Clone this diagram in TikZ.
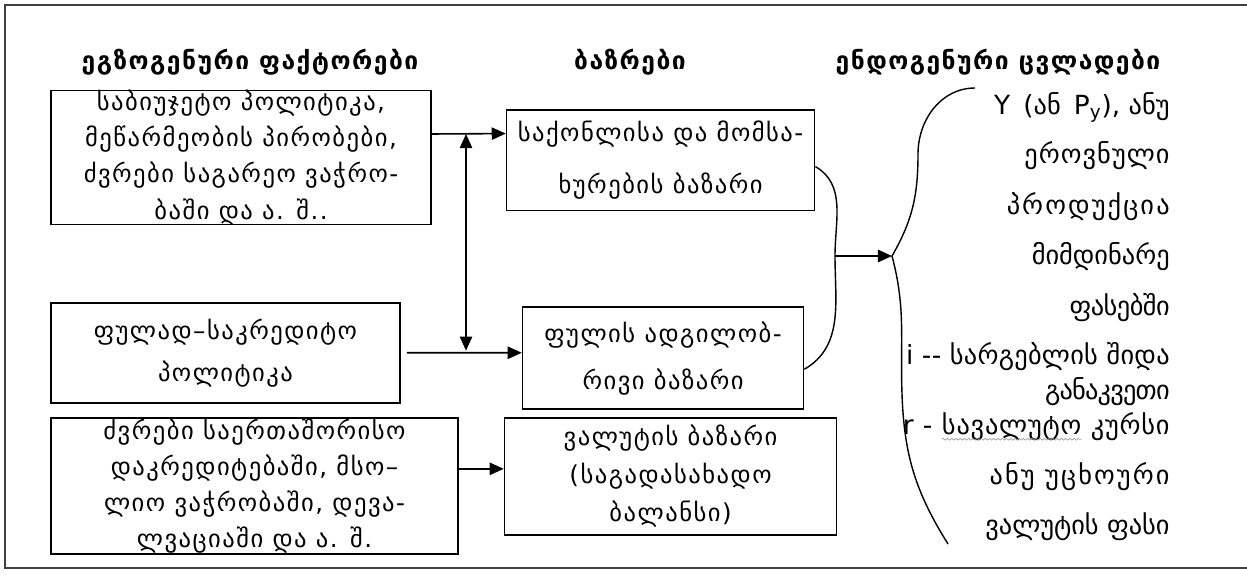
\documentclass[tikz,border=0pt]{standalone}
\usepackage{fontspec}
\setmainfont{DejaVu Sans}
\newfontfamily\geoBox[LetterSpace=6]{DejaVu Sans}
\usepackage{tikz}
\usetikzlibrary{shapes, arrows.meta, positioning, decorations.pathmorphing}
\definecolor{frameColor}{HTML}{404040}
\definecolor{squigColor}{HTML}{9A9A9A}
\tikzstyle{factor} = [rectangle, 
line width=0.9pt,
text centered, 
align=center,
inner sep=0pt,
draw=black]
\tikzstyle{market} = [rectangle, 
line width=0.9pt,
text centered, 
align=center,
inner sep=0pt,
draw=black]
\tikzstyle{heading} = [font=\geoBox\fontsize{14}{20}\selectfont\bfseries, inner sep=0pt]
\tikzstyle{endoline} = [font=\rmfamily\fontsize{15}{20}\selectfont, inner sep=0pt, anchor=base east]
\tikzstyle{arrow} = [line width=0.9pt, ->, >={Triangle[length=8pt,width=7pt]}]
\tikzstyle{curveline} = [line width=0.8pt]
\newcommand{\squig}[1]{\tikz[baseline=(sq.base)]{\node[inner sep=0pt, outer sep=0pt, anchor=base] (sq) {#1};
  \draw[squigColor, line width=0.4pt, decorate, decoration={snake, amplitude=0.5pt, segment length=2.4pt}] ([yshift=-3pt]sq.base west) -- ([yshift=-3pt]sq.base east);}}
\newcommand{\spread}[1]{\addfontfeature{LetterSpace=#1}}

\begin{document}
\begin{tikzpicture}[font=\geoBox\fontsize{14}{20.5}\selectfont]
    \useasboundingbox (0,0) rectangle (24.94,11.48);
    \draw[frameColor, line width=1.6pt] (0.1,0.12) rectangle (25.2,11.38);
    % Nodes
    \node[heading] (exoHead) at (5.0,10.24) {ეგზოგენური ფაქტორები};
    \node[heading] (mktHead) at (12.6,10.24) {ბაზრები};
    \node[heading] (endoHead) at (19.96,10.24) {ენდოგენური ცვლადები};
    \node[factor, minimum width=7.6cm, minimum height=2.67cm] (budget) at (4.82,8.33) {საბიუჯეტო პოლიტიკა,\\ მეწარმეობის პირობები,\\ ძვრები საგარეო ვაჭრო-\\ ბაში და ა. შ..};
    \node[factor, minimum width=6.98cm, minimum height=2cm, below=1.53cm of budget.south west, anchor=north west] (monetary) {ფულად–საკრედიტო\\[3.4pt] პოლიტიკა};
    \node[factor, minimum width=8.14cm, minimum height=2.72cm, below=0.27cm of monetary.south west, anchor=north west] (world) {ძვრები საერთაშორისო\\ დაკრედიტებაში, მსო–\\ ლიო ვაჭრობაში, დევა-\\ ლვაციაში და ა. შ.};
    \node[market, minimum width=6.16cm, minimum height=2.01cm, right=1.48cm of budget.north east, anchor=north west, yshift=-0.39cm] (goods) {საქონლისა და მომსა-\\[9.6pt] ხურების ბაზარი};
    \node[market, minimum width=5.62cm, minimum height=2.04cm, right=2.42cm of monetary.north east, anchor=north west, yshift=-0.09cm] (money) {ფულის ადგილობ-\\[6.2pt] რივი ბაზარი};
    \node[market, minimum width=6.64cm, minimum height=2.34cm, right=0.9cm of world.north east, anchor=north west] (currency) {ვალუტის ბაზარი\\[1.1pt] (საგადასახადო\\[1.1pt] ბალანსი)};
    \node[endoline] (endoY) at (23.4,9.18) {Y\enspace(ან\enspace P\textsubscript{y}), ანუ};
    \node[endoline] (endoNat) at (23.4,8.2) {\spread{4}ეროვნული};
    \node[endoline] (endoProd) at (23.4,7.2) {\spread{8}პროდუქცია};
    \node[endoline] (endoCur) at (23.4,6.2) {მიმდინარე};
    \node[endoline] (endoPrice) at (23.4,5.18) {\spread{-2}ფასებში};
    \node[endoline] (endoI) at (23.4,4.2) {\spread{1}i -{}- სარგებლის შიდა};
    \node[endoline] (endoRate) at (23.4,3.5) {\spread{-3}განაკვეთი};
    \node[endoline] (endoR) at (23.4,2.8) {\spread{3}r - \squig{სავალუტო} კურსი};
    \node[endoline] (endoFor) at (23.4,1.8) {\spread{8}ანუ უცხოური};
    \node[endoline] (endoFx) at (23.4,0.8) {ვალუტის ფასი};
    \coordinate (jTop) at (9.32,8.8);
    \coordinate (jBot) at (9.32,4.466);
    \coordinate (jMid) at (16.7,6.36);
    \coordinate (bTip) at (17.84,6.36);
    \coordinate (bTop) at (19.5,9.72);
    \coordinate (bBot) at (18.96,0.6);

    % Arrows
    \draw[arrow] ([yshift=0.47cm]budget.east) -- ([yshift=0.53cm]goods.west);
    \draw[arrow] ([xshift=0.12cm]monetary.east) -- ([yshift=0.11cm]money.west);
    \draw[arrow] ([yshift=0.34cm]world.east) -- ([yshift=0.15cm]currency.west);
    \draw[arrow, <->] (jBot) -- (jTop);
    \draw[curveline] ([yshift=-0.13cm]goods.east) to[out=-30, in=90] (jMid) to[out=-90, in=30] ([yshift=-0.22cm]money.east);
    \draw[arrow] (jMid) -- (bTip);
    \draw[curveline] (bTop) to[out=180, in=90] (18.36,8.4) to[out=-90, in=60] (bTip);
    \draw[curveline] (bTip) to[out=-75, in=92] (18.04,3.6) to[out=-88, in=122] (bBot);
\end{tikzpicture}
\end{document}
